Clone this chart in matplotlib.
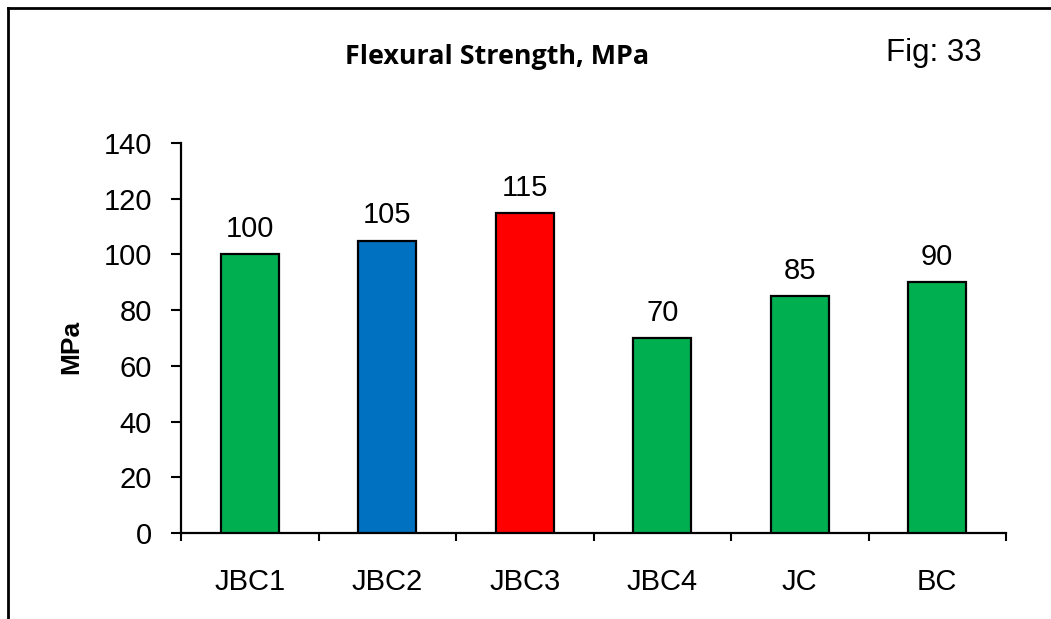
import matplotlib
matplotlib.use("Agg")
import matplotlib.pyplot as plt
from matplotlib.lines import Line2D

categories = ["JBC1", "JBC2", "JBC3", "JBC4", "JC", "BC"]
strength = [100, 105, 115, 70, 85, 90]
bar_colors = ["#00B050", "#0070C0", "#FF0000", "#00B050", "#00B050", "#00B050"]
y_ticks = [0, 20, 40, 60, 80, 100, 120, 140]

W, H = 1051, 619
fig = plt.figure(figsize=(W / 100, H / 100), dpi=100)
fig.patch.set_facecolor("white")

ax = fig.add_axes([181 / W, 1 - 533 / H, (1006 - 181) / W, (533 - 143) / H])
x = list(range(len(categories)))
ax.bar(x, strength, width=0.42, color=bar_colors, edgecolor="black", linewidth=1.6, zorder=3)

for xi, v in zip(x, strength):
    ax.annotate(str(v), (xi, v), xytext=(0, 8), textcoords="offset points",
                ha="center", va="bottom", fontsize=21, family="Liberation Sans")

ax.set_xlim(-0.5, len(categories) - 0.5)
ax.set_ylim(0, 140)
ax.set_yticks(y_ticks)
ax.set_yticklabels([str(t) for t in y_ticks], fontsize=21, family="Liberation Sans")
ax.set_xticks(x)
ax.set_xticklabels(categories, fontsize=21, family="Liberation Sans")
ax.set_xticks([i - 0.5 for i in range(len(categories) + 1)], minor=True)
ax.tick_params(axis="x", which="major", length=0, pad=25)
ax.tick_params(axis="x", which="minor", length=6, width=1.5, direction="out")
ax.tick_params(axis="y", length=7, width=1.5, direction="out", pad=14)

for side in ("top", "right"):
    ax.spines[side].set_visible(False)
for side in ("left", "bottom"):
    ax.spines[side].set_linewidth(1.6)

ax.set_ylabel("MPa", fontsize=19, fontweight="bold", family="Liberation Sans")
ax.yaxis.set_label_coords((83 - 181) / (1006 - 181), (533 - 347) / (533 - 143))

fig.text(497 / W, 1 - 57 / H, "Flexural Strength, MPa", ha="center", va="center",
         fontsize=19.4, fontweight="bold", family="Open Sans")
fig.text(934 / W, 1 - 53 / H, "Fig: 33", ha="center", va="center",
         fontsize=22.5, family="Liberation Sans")

# outer frame: top and left edges
fig.add_artist(Line2D([8 / W, 1], [1 - 8 / H, 1 - 8 / H], transform=fig.transFigure,
                      color="black", linewidth=2))
fig.add_artist(Line2D([8 / W, 8 / W], [0, 1 - 8 / H], transform=fig.transFigure,
                      color="black", linewidth=2))

fig.savefig("out.png", dpi=100, facecolor="white")
